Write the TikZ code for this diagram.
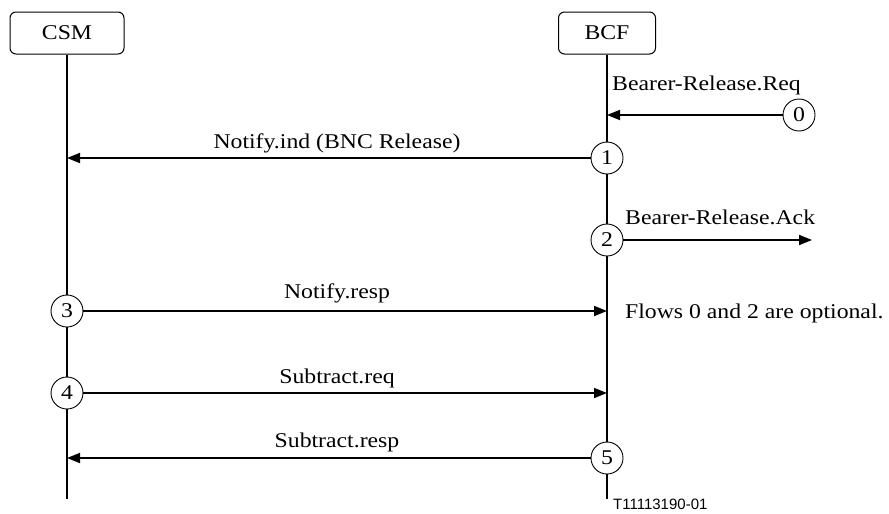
\documentclass[tikz,border=0pt]{standalone}
\usepackage{fontspec}
\setmainfont[FakeStretch=1.13]{Liberation Serif}
\newfontfamily\labelsans{Liberation Sans}
\usetikzlibrary{arrows.meta}
\tikzset{
  entity/.style={draw, line width=1pt, rounded corners=6pt, minimum width=97pt, minimum height=42pt, inner sep=0pt},
  lifeline/.style={line width=1.8pt},
  flownum/.style={circle, draw, line width=0.9pt, fill=white, minimum size=32pt, inner sep=0pt},
  msg/.style={line width=1.8pt, -{Triangle[length=13pt,width=10pt]}},
  msglabel/.style={anchor=base, inner sep=0pt},
}
\begin{document}
\begin{tikzpicture}[x=1pt,y=-1pt, every node/.append style={font=\fontsize{21}{25}\selectfont}]
\useasboundingbox (0,0) rectangle (889,514);
% entities
\node[entity, minimum width=114pt] (csm) at (67,33) {CSM};
\node[entity] (bcf) at (607,33) {BCF};
% lifeline ends
\coordinate (csmend) at (67,499);
\coordinate (bcfend) at (607,499);
\draw[lifeline] (csm.south) -- (csmend);
\draw[lifeline] (bcf.south) -- (bcfend);
% lifeline points
\coordinate (b0) at (607,115);
\coordinate (c1) at (67,158);
\coordinate (c5) at (67,458);
\coordinate (b3) at (607,311);
\coordinate (b4) at (607,393);
\coordinate (e2) at (812,240);
% flow circles
\node[flownum] (n0) at (799,115) {0};
\node[flownum] (n1) at (607,158) {1};
\node[flownum] (n2) at (607,240) {2};
\node[flownum] (n3) at (67,311) {3};
\node[flownum] (n4) at (67,393) {4};
\node[flownum] (n5) at (607,458) {5};
% messages
\draw[msg] (n0.west) -- (b0);
\draw[msg] (n1.west) -- (c1);
\draw[msg] (n2.east) -- (e2);
\draw[msg] (n3.east) -- (b3);
\draw[msg] (n4.east) -- (b4);
\draw[msg] (n5.west) -- (c5);
% labels
\node[anchor=base west, inner sep=0pt] (l0) at (612,90) {Bearer-Release.Req};
\node[msglabel] (l1) at (337,148) {Notify.ind (BNC Release)};
\node[anchor=base west, inner sep=0pt] (l2) at (625,224) {Bearer-Release.Ack};
\node[msglabel] (l3) at (337,298) {Notify.resp};
\node[anchor=base west, inner sep=0pt] (note) at (625,318) {Flows 0 and 2 are optional.};
\node[msglabel] (l4) at (337,383) {Subtract.req};
\node[msglabel] (l5) at (337,447) {Subtract.resp};
\node[anchor=base west, inner sep=0pt, font=\labelsans\fontsize{15}{18}\selectfont] (fig) at (613,509) {T11113190-01};
\end{tikzpicture}
\end{document}
